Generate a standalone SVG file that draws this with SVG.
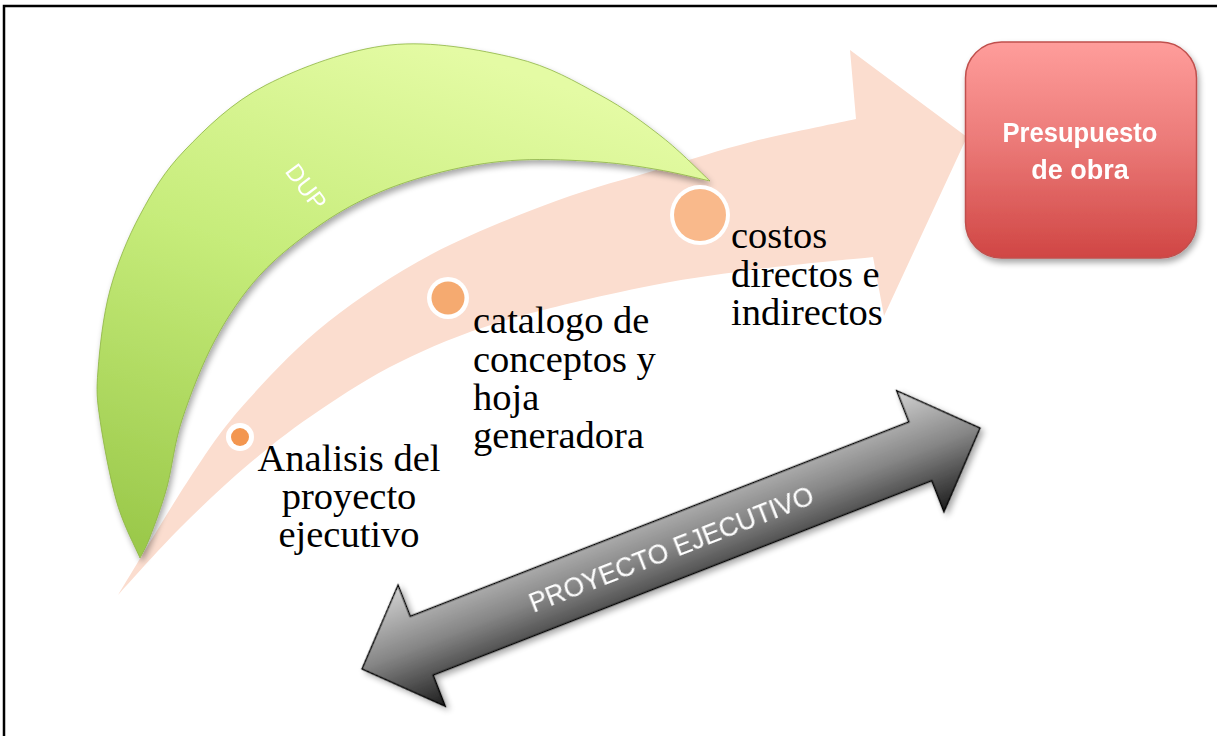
<svg xmlns="http://www.w3.org/2000/svg" width="1217" height="736" viewBox="0 0 1217 736">
  <style>
    .lbl { font-family: "Liberation Serif", "Times New Roman", serif; font-size: 38.5px; fill: #000; }
    .wht { font-family: "Liberation Sans", Arial, sans-serif; fill: #fff; }
    .ring { fill: #fff; }
  </style>
  <defs>
    <linearGradient id="gGreen" x1="0.55" y1="0" x2="0.15" y2="1">
      <stop offset="0" stop-color="#E4FBA4"/>
      <stop offset="0.45" stop-color="#C6EC7A"/>
      <stop offset="1" stop-color="#9BC94B"/>
    </linearGradient>
    <linearGradient id="gRed" x1="0" y1="0" x2="0" y2="1">
      <stop offset="0" stop-color="#FF9D9B"/>
      <stop offset="0.45" stop-color="#EC7B79"/>
      <stop offset="1" stop-color="#D04644"/>
    </linearGradient>
    <linearGradient id="gGray" gradientUnits="userSpaceOnUse" x1="0" y1="-65" x2="0" y2="65">
      <stop offset="0" stop-color="#D2D2D2"/>
      <stop offset="0.5" stop-color="#858585"/>
      <stop offset="1" stop-color="#1C1C1C"/>
    </linearGradient>
    <filter id="shadow" x="-10%" y="-10%" width="130%" height="130%">
      <feGaussianBlur in="SourceAlpha" stdDeviation="3"/>
      <feOffset dx="2" dy="4" result="b"/>
      <feComponentTransfer><feFuncA type="linear" slope="0.35"/></feComponentTransfer>
      <feMerge><feMergeNode/><feMergeNode in="SourceGraphic"/></feMerge>
    </filter>
  </defs>

  <rect x="4" y="6" width="1400" height="900" fill="#fff" stroke="#000" stroke-width="2.5"/>

  <g id="connectors">
    <path id="timeline-arrow" fill="#FBDDCF" d="M118,595 C130.8,574.2 173.3,502.5 195,470 S225.8,424.7 248,400 S297.3,346.3 328,322 S394,274.2 432,254 S518,215.2 556,201 S627.5,178.8 660,169 S718.3,150.3 751,142 S838.5,122.8 856,119 L850,50 L967,137 L884,316 L873,257 C852.7,259.2 790,264.8 751,270 S680.8,279.3 639,288 S539.8,309.7 500,322 S430,347.3 400,362 S345,393.2 320,410 S273.3,443.3 250,463 S202,506 180,528 S128.3,583.8 118,595 Z"/>
    <g id="proyecto-ejecutivo" transform="translate(671,548.5) rotate(-21.3)" filter="url(#shadow)">
      <path d="M-331.6,0 L-267.6,-65 L-267.6,-31.5 L267.6,-31.5 L267.6,-65 L331.6,0 L267.6,65 L267.6,31.5 L-267.6,31.5 L-267.6,65 Z" fill="url(#gGray)" stroke="#000" stroke-width="1.5" stroke-linejoin="miter"/>
      <text class="wht" x="0" y="10" font-size="27" text-anchor="middle" textLength="303" lengthAdjust="spacingAndGlyphs">PROYECTO EJECUTIVO</text>
    </g>
  </g>

  <g id="dup" filter="url(#shadow)">
    <path fill="url(#gGreen)" stroke="#8DB443" stroke-width="0.8" d="M140,558 C136.2,548.8 123.7,526 117,503 S103.2,442.2 100,420 S96.3,391.7 98,370 S103,315.8 110,290 S127.5,238.3 140,215 S164,171.7 185,150 S231.8,102.5 266,85 S348.5,49.5 390,45 S480,49.7 515,58 S575.5,81.8 600,95 S643.7,122.7 662,137 S702,173.7 710,181 C701.7,179.2 678.3,173.2 660,170 S623.3,163.7 600,162 S545,158.7 520,160 S473.3,164.7 450,170 S401.7,182.8 380,192 S340,211.2 320,225 S277.5,255.8 260,275 S228,315.8 215,340 S190,395.5 182,420 S172.3,467.5 167,487 S154.5,525.2 150,537 S141.7,554.5 140,558 Z"/>
    <text class="wht" x="0" y="0" font-size="24" text-anchor="middle" transform="translate(306,187) rotate(53)" dy="8">DUP</text>
  </g>

  <g id="step1">
    <circle class="ring" cx="240" cy="437" r="14"/>
    <circle cx="240" cy="437" r="9" fill="#F3964F"/>
    <text class="lbl" text-anchor="middle"><tspan x="349" y="471">Analisis del</tspan><tspan x="349" y="509">proyecto</tspan><tspan x="349" y="547">ejecutivo</tspan></text>
  </g>

  <g id="step2">
    <circle class="ring" cx="448" cy="298" r="21"/>
    <circle cx="448" cy="298" r="16.5" fill="#F5AA70"/>
    <text class="lbl"><tspan x="473" y="333">catalogo de</tspan><tspan x="473" y="372">conceptos y</tspan><tspan x="473" y="410">hoja</tspan><tspan x="473" y="448">generadora</tspan></text>
  </g>

  <g id="step3">
    <circle class="ring" cx="700" cy="215" r="30"/>
    <circle cx="700" cy="215" r="26" fill="#F9B98B"/>
    <text class="lbl"><tspan x="731" y="248">costos</tspan><tspan x="731" y="287">directos e</tspan><tspan x="731" y="325">indirectos</tspan></text>
  </g>

  <g id="presupuesto" filter="url(#shadow)">
    <rect x="965.5" y="42" width="231" height="216" rx="36" fill="url(#gRed)" stroke="#C0504D" stroke-width="1.5"/>
    <text class="wht" font-size="27" font-weight="bold" text-anchor="middle"><tspan x="1080" y="142" textLength="155" lengthAdjust="spacingAndGlyphs">Presupuesto</tspan><tspan x="1080" y="179">de obra</tspan></text>
  </g>
</svg>
